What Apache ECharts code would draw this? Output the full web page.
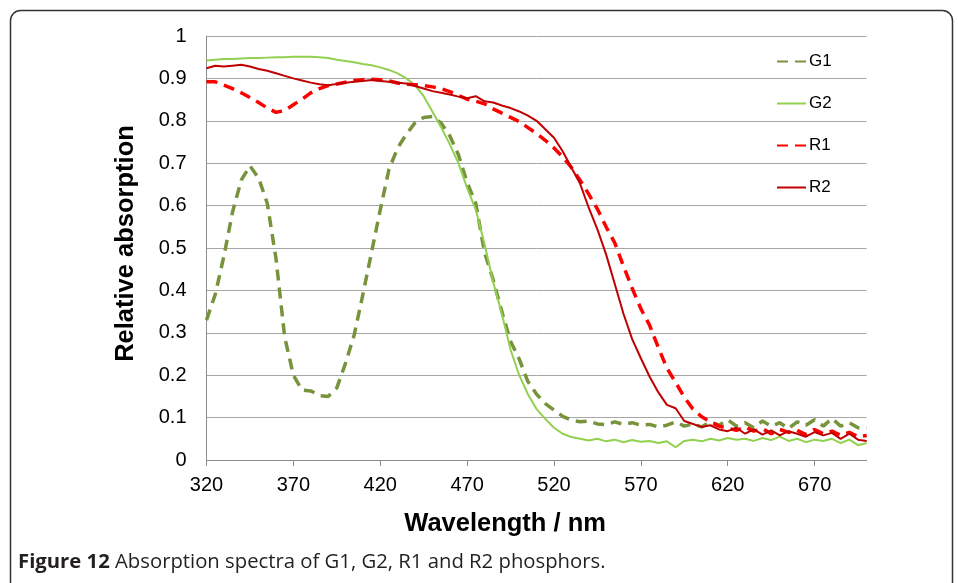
<!DOCTYPE html>
<html>
<head>
<meta charset="utf-8">
<script src="https://cdn.jsdelivr.net/npm/echarts@6/dist/echarts.min.js"></script>
<style>html,body{margin:0;padding:0;background:#fff;}#chart{width:958px;height:583px;}</style>
</head>
<body>
<div id="chart"></div>
<script>
// Wavelength (nm) sample points
const wavelengths = [320,325,330,335,340,345,350,355,360,365,370,375,380,385,390,395,400,405,410,415,420,425,430,435,440,445,450,455,460,465,470,475,480,485,490,495,500,505,510,515,520,525,530,535,540,545,550,555,560,565,570,575,580,585,590,595,600,605,610,615,620,625,630,635,640,645,650,655,660,665,670,675,680,685,690,695,700];
const G1 = [0.33,0.39,0.48,0.585,0.66,0.694,0.665,0.605,0.475,0.29,0.20,0.165,0.163,0.152,0.15,0.17,0.228,0.295,0.39,0.49,0.59,0.685,0.736,0.768,0.795,0.808,0.81,0.795,0.765,0.72,0.655,0.605,0.49,0.425,0.35,0.28,0.238,0.185,0.155,0.133,0.118,0.103,0.094,0.09,0.092,0.085,0.083,0.09,0.084,0.088,0.082,0.084,0.078,0.082,0.09,0.08,0.085,0.078,0.09,0.082,0.095,0.08,0.088,0.076,0.092,0.08,0.088,0.074,0.09,0.082,0.095,0.08,0.098,0.08,0.088,0.076,0.075];
const G2 = [0.942,0.944,0.946,0.946,0.947,0.948,0.948,0.949,0.95,0.95,0.951,0.951,0.951,0.95,0.948,0.944,0.941,0.938,0.934,0.931,0.926,0.92,0.912,0.9,0.884,0.858,0.822,0.785,0.745,0.70,0.642,0.59,0.51,0.42,0.345,0.26,0.2,0.155,0.12,0.097,0.076,0.062,0.054,0.05,0.046,0.05,0.044,0.048,0.042,0.047,0.043,0.045,0.04,0.044,0.03,0.045,0.048,0.044,0.05,0.046,0.052,0.048,0.05,0.045,0.052,0.047,0.055,0.045,0.05,0.042,0.048,0.045,0.05,0.04,0.048,0.035,0.04];
const R1 = [0.892,0.892,0.884,0.876,0.866,0.855,0.843,0.83,0.82,0.824,0.838,0.851,0.866,0.876,0.883,0.887,0.891,0.895,0.897,0.898,0.897,0.894,0.889,0.886,0.885,0.883,0.88,0.876,0.869,0.86,0.851,0.846,0.84,0.828,0.818,0.808,0.798,0.784,0.77,0.754,0.736,0.715,0.69,0.66,0.627,0.592,0.55,0.512,0.457,0.405,0.357,0.318,0.266,0.217,0.183,0.148,0.12,0.102,0.09,0.08,0.075,0.07,0.078,0.068,0.074,0.062,0.072,0.065,0.07,0.06,0.072,0.062,0.068,0.058,0.065,0.055,0.058];
const R2 = [0.924,0.93,0.928,0.93,0.932,0.928,0.922,0.918,0.912,0.906,0.9,0.895,0.89,0.886,0.884,0.887,0.89,0.892,0.894,0.896,0.894,0.892,0.89,0.888,0.882,0.876,0.87,0.866,0.862,0.857,0.853,0.858,0.846,0.843,0.836,0.83,0.822,0.812,0.8,0.78,0.76,0.728,0.69,0.652,0.595,0.544,0.485,0.415,0.345,0.285,0.24,0.197,0.16,0.13,0.122,0.092,0.085,0.078,0.082,0.072,0.068,0.076,0.062,0.072,0.06,0.07,0.058,0.068,0.062,0.055,0.066,0.058,0.064,0.05,0.062,0.048,0.045];
const xTickLabels = [320,370,420,470,520,570,620,670];
const seriesNames = ['G1','G2','R1','R2'];
const captionBold = 'Figure 12';
const captionText = ' Absorption spectra of G1, G2, R1 and R2 phosphors.';

const pair = arr => wavelengths.map((w,i)=>[w,arr[i]]);
const chart = echarts.init(document.getElementById('chart'), null, {renderer:'canvas'});
const font = 'Liberation Sans, Arial, sans-serif';
const mk = (name, data, color, width, dashed) => ({
  name, type:'line', data:pair(data), showSymbol:false, symbol:'none', symbolSize:0, smooth:false,
  lineStyle:{color, width, type: dashed ? [11,7] : 'solid', cap:'butt'},
  itemStyle:{color}, animation:false
});
chart.setOption({
  animation:false,
  grid:{left:206.5, right:91.3, top:36, bottom:123, containLabel:false},
  xAxis:{type:'value', min:320, max:700, interval:50,
    name:'Wavelength / nm', nameLocation:'middle', nameGap:51,
    nameTextStyle:{fontFamily:font, fontSize:25.5, fontWeight:'bold', color:'#000', padding:[0,63,0,0]},
    axisLine:{show:true, lineStyle:{color:'#8c8c8c', width:1}},
    axisTick:{show:true, length:6, lineStyle:{color:'#8c8c8c'}, customValues:xTickLabels},
    axisLabel:{fontFamily:font, fontSize:20, color:'#000', margin:15, customValues:xTickLabels},
    splitLine:{show:false}},
  yAxis:{type:'value', min:0, max:1, interval:0.1,
    name:'Relative absorption', nameLocation:'middle', nameGap:68, nameRotate:90,
    nameTextStyle:{fontFamily:font, fontSize:25.5, fontWeight:'bold', color:'#000', padding:[0,0,0,9]},
    axisLine:{show:true, lineStyle:{color:'#8c8c8c', width:1}},
    axisTick:{show:false},
    axisLabel:{fontFamily:font, fontSize:20, color:'#000', margin:20},
    splitLine:{show:true, lineStyle:{color:'#a6a6a6', width:1}}},
  legend:{orient:'vertical', left:776, top:53, padding:0, itemWidth:29, itemHeight:14, itemGap:25,
    data:seriesNames,
    itemStyle:{opacity:0},
    textStyle:{fontFamily:font, fontSize:17, color:'#000', padding:[0,0,0,-2]}},
  series:[
    mk(seriesNames[0], G1, '#77933C', 3.5, true),
    mk(seriesNames[1], G2, '#92D050', 2, false),
    mk(seriesNames[2], R1, '#FF0000', 3.5, true),
    mk(seriesNames[3], R2, '#C00000', 2, false)
  ],
  graphic:[
    {type:'rect', left:8, top:8, shape:{x:0,y:0,width:942,height:600,r:10}, silent:true,
     style:{fill:'none', stroke:'#333', lineWidth:1.5}},
    {type:'text', left:18, top:552, silent:true,
     style:{text:'{b|'+captionBold+'}{n|'+captionText+'}',
       rich:{b:{fontFamily:'Open Sans, Noto Sans, sans-serif', fontWeight:'bold', fontSize:20.3, fill:'#231F20'},
             n:{fontFamily:'Open Sans, Noto Sans, sans-serif', fontSize:20.3, fill:'#231F20'}}}}
  ]
});
</script>
</body>
</html>
